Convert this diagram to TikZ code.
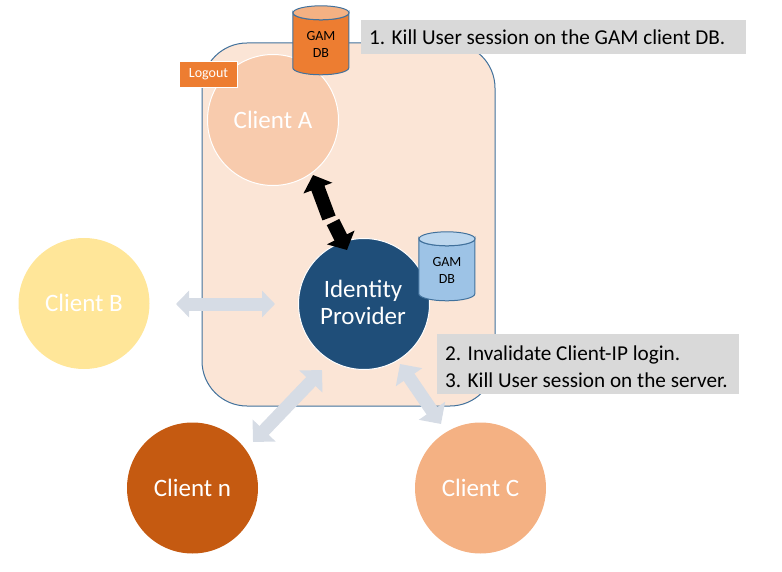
\documentclass[tikz,border=0pt]{standalone}
\usepackage{fontspec}
\setmainfont{Carlito}
\usetikzlibrary{arrows.meta}
\definecolor{panelfill}{HTML}{FBE5D6}
\definecolor{edgeblue}{HTML}{41719C}
\definecolor{linkgrey}{HTML}{D6DCE5}
\definecolor{notegrey}{HTML}{D9D9D9}
\newcommand{\dbcylinder}[3]{%
  \path[fill=#2,draw=edgeblue,line width=1pt] (#1.north west) ++(0,7)
    -- ++(0,55) arc[x radius=28,y radius=7,start angle=180,end angle=0] -- ++(0,-55)
    arc[x radius=28,y radius=7,start angle=0,end angle=180] -- cycle;
  \path[fill=#3,draw=edgeblue,line width=1pt] (#1.north) ++(0,7) ellipse[x radius=28,y radius=7];
}
\definecolor{dbbodyo}{RGB}{237,125,49}
\definecolor{dbtopo}{RGB}{244,177,131}
\definecolor{dbbodyb}{RGB}{157,195,230}
\definecolor{dbtopb}{RGB}{189,215,238}
\tikzset{
  client/.style={circle,minimum size=131pt,inner sep=0pt,text=white,font=\fontsize{25}{27}\selectfont,align=center},
  ringed/.style={client,draw=white,line width=1pt},
  dbbox/.style={minimum width=56pt,minimum height=69pt,inner sep=0pt},
  dbtext/.style={align=center,font=\fontsize{14}{17}\selectfont,text=black,inner sep=0pt},
  note/.style={fill=notegrey,inner sep=0pt,anchor=north west,font=\fontsize{21.2}{27}\selectfont,text=black,align=flush left},
  link/.style={draw=linkgrey,line width=13pt,{Triangle[width=26pt,length=13pt]}-{Triangle[width=26pt,length=13pt]}},
  diaglink/.style={draw=linkgrey,line width=13pt,{Triangle[width=31pt,length=16pt]}-{Triangle[width=31pt,length=16pt]}},
  active/.style={draw=black,line width=14pt,-{Triangle[width=30pt,length=14pt]}},
}
\begin{document}
\begin{tikzpicture}[x=1pt,y=-1pt]
\useasboundingbox (0,0) rectangle (782,572);
\node[draw=edgeblue,fill=panelfill,line width=1pt,rounded corners=45pt,minimum width=293pt,minimum height=363pt,inner sep=0pt] (panel) at (348.5,224.5) {};
\node[ringed,fill={rgb,255:red,248;green,203;blue,173}] (clienta) at (273,120) {Client A};
\node[client,fill={rgb,255:red,255;green,230;blue,153}] (clientb) at (84,303.5) {\raisebox{1pt}{Client B}};
\node[client,fill={rgb,255:red,197;green,90;blue,17}] (clientn) at (192.5,488) {Client n};
\node[client,fill={rgb,255:red,244;green,177;blue,131}] (clientc) at (480.5,488) {Client C};
\node[ringed,fill={rgb,255:red,31;green,78;blue,121}] (idp) at (364,304) {};
\node[text=white,font=\fontsize{25}{27}\selectfont,align=center,inner sep=0pt] (idptext) at (363,302) {Identity\\Provider};
\path (321,40.5) node[dbbox] (dba) {};
\dbcylinder{dba}{dbbodyo}{dbtopo}
\node[dbtext] (dbatext) at (321,44) {GAM\\DB};
\path (447,266.5) node[dbbox] (dbi) {};
\dbcylinder{dbi}{dbbodyb}{dbtopb}
\node[dbtext] (dbitext) at (447,270) {GAM\\DB};
\node[draw=white,line width=1.5pt,fill={rgb,255:red,237;green,125;blue,49},minimum width=58pt,minimum height=26pt,inner sep=0pt,text=white,font=\fontsize{14}{16}\selectfont] (logout) at (208.5,74.5) {Logout};
\node[note,minimum height=34pt,text width=369pt,inner xsep=8pt] (noteone) at (361,20) {\mbox{1. Kill User session on the GAM client DB.}};
\node[note,text width=286pt,minimum height=60pt,inner xsep=8pt] (notetwo) at (437,334) {\rule{0pt}{19pt}\mbox{2. Invalidate Client-IP login.}\\\mbox{3. Kill User session on the server.}};
\coordinate (bl) at (176,304); \coordinate (br) at (275,304);
\coordinate (nt) at (322,370); \coordinate (nb) at (253,442);
\coordinate (ct) at (400,364); \coordinate (cb) at (441,424);
\coordinate (au) at (313,175); \coordinate (am) at (329,218);
\coordinate (il) at (347,250); \coordinate (im) at (333,222);
\draw[link] (bl) -- (br);
\draw[diaglink] (nb) -- (nt);
\draw[diaglink] (ct) -- (cb);
\draw[active] (am) -- (au);
\draw[active] (im) -- (il);
\end{tikzpicture}
\end{document}
